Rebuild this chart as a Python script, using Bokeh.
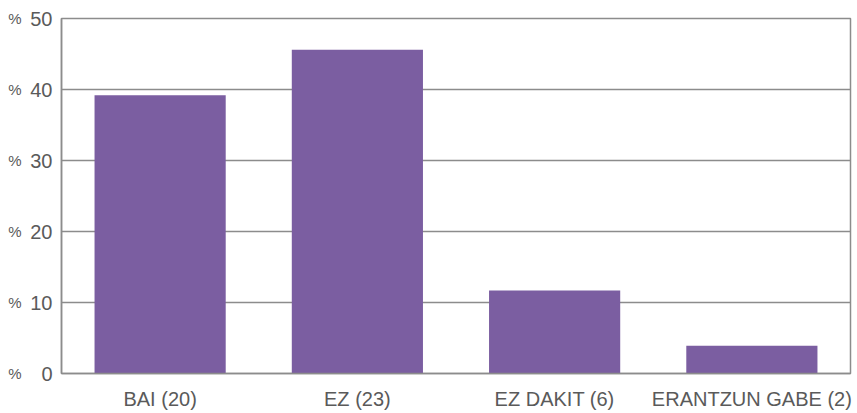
from bokeh.plotting import figure
from bokeh.models import FixedTicker, ColumnDataSource, LinearAxis
from bokeh.embed import file_html
from bokeh.resources import INLINE

categories = ["BAI (20)", "EZ (23)", "EZ DAKIT (6)", "ERANTZUN GABE (2)"]
percents = [39.2, 45.6, 11.7, 3.9]
y_ticks = [0, 10, 20, 30, 40, 50]

FONT = "Liberation Sans"
GRAY = "#8c8c8c"
TEXT = "#5a5a5a"
PURPLE = "#7b5ea1"

src = ColumnDataSource(data=dict(cat=categories, val=percents))

p = figure(x_range=categories, y_range=(0, 50), width=856, height=412,
           output_backend="svg", toolbar_location=None,
           min_border_left=61, min_border_right=6, min_border_top=18,
           min_border_bottom=37)

p.vbar(x="cat", top="val", width=0.665, source=src, color=PURPLE, line_color=None)

p.outline_line_color = GRAY
p.outline_line_width = 1.5
p.xgrid.grid_line_color = None
p.ygrid.grid_line_color = GRAY
p.ygrid.grid_line_width = 1.5
p.ygrid.ticker = FixedTicker(ticks=y_ticks)

p.yaxis.ticker = FixedTicker(ticks=y_ticks)
p.yaxis.axis_line_color = GRAY
p.yaxis.axis_line_width = 1.5
p.yaxis.major_tick_line_color = None
p.yaxis.minor_tick_line_color = None
p.yaxis.major_tick_out = 0
p.yaxis.major_tick_in = 0
p.yaxis.major_label_standoff = 9
p.yaxis.major_label_text_font = FONT
p.yaxis.major_label_text_font_size = "20px"
p.yaxis.major_label_text_color = TEXT

pct_axis = LinearAxis(ticker=FixedTicker(ticks=y_ticks),
                      major_label_overrides={v: "%" for v in y_ticks})
pct_axis.axis_line_color = None
pct_axis.major_tick_line_color = None
pct_axis.minor_tick_line_color = None
pct_axis.major_tick_out = 0
pct_axis.major_tick_in = 0
pct_axis.major_label_standoff = 6
pct_axis.major_label_text_font = FONT
pct_axis.major_label_text_font_size = "15px"
pct_axis.major_label_text_color = TEXT
p.add_layout(pct_axis, "left")

p.xaxis.axis_line_color = GRAY
p.xaxis.axis_line_width = 1.5
p.xaxis.major_tick_line_color = None
p.xaxis.major_tick_out = 0
p.xaxis.major_tick_in = 0
p.xaxis.major_label_standoff = 14
p.xaxis.major_label_text_font = FONT
p.xaxis.major_label_text_font_size = "20px"
p.xaxis.major_label_text_color = TEXT

open("out.html", "w").write(file_html(p, INLINE))
